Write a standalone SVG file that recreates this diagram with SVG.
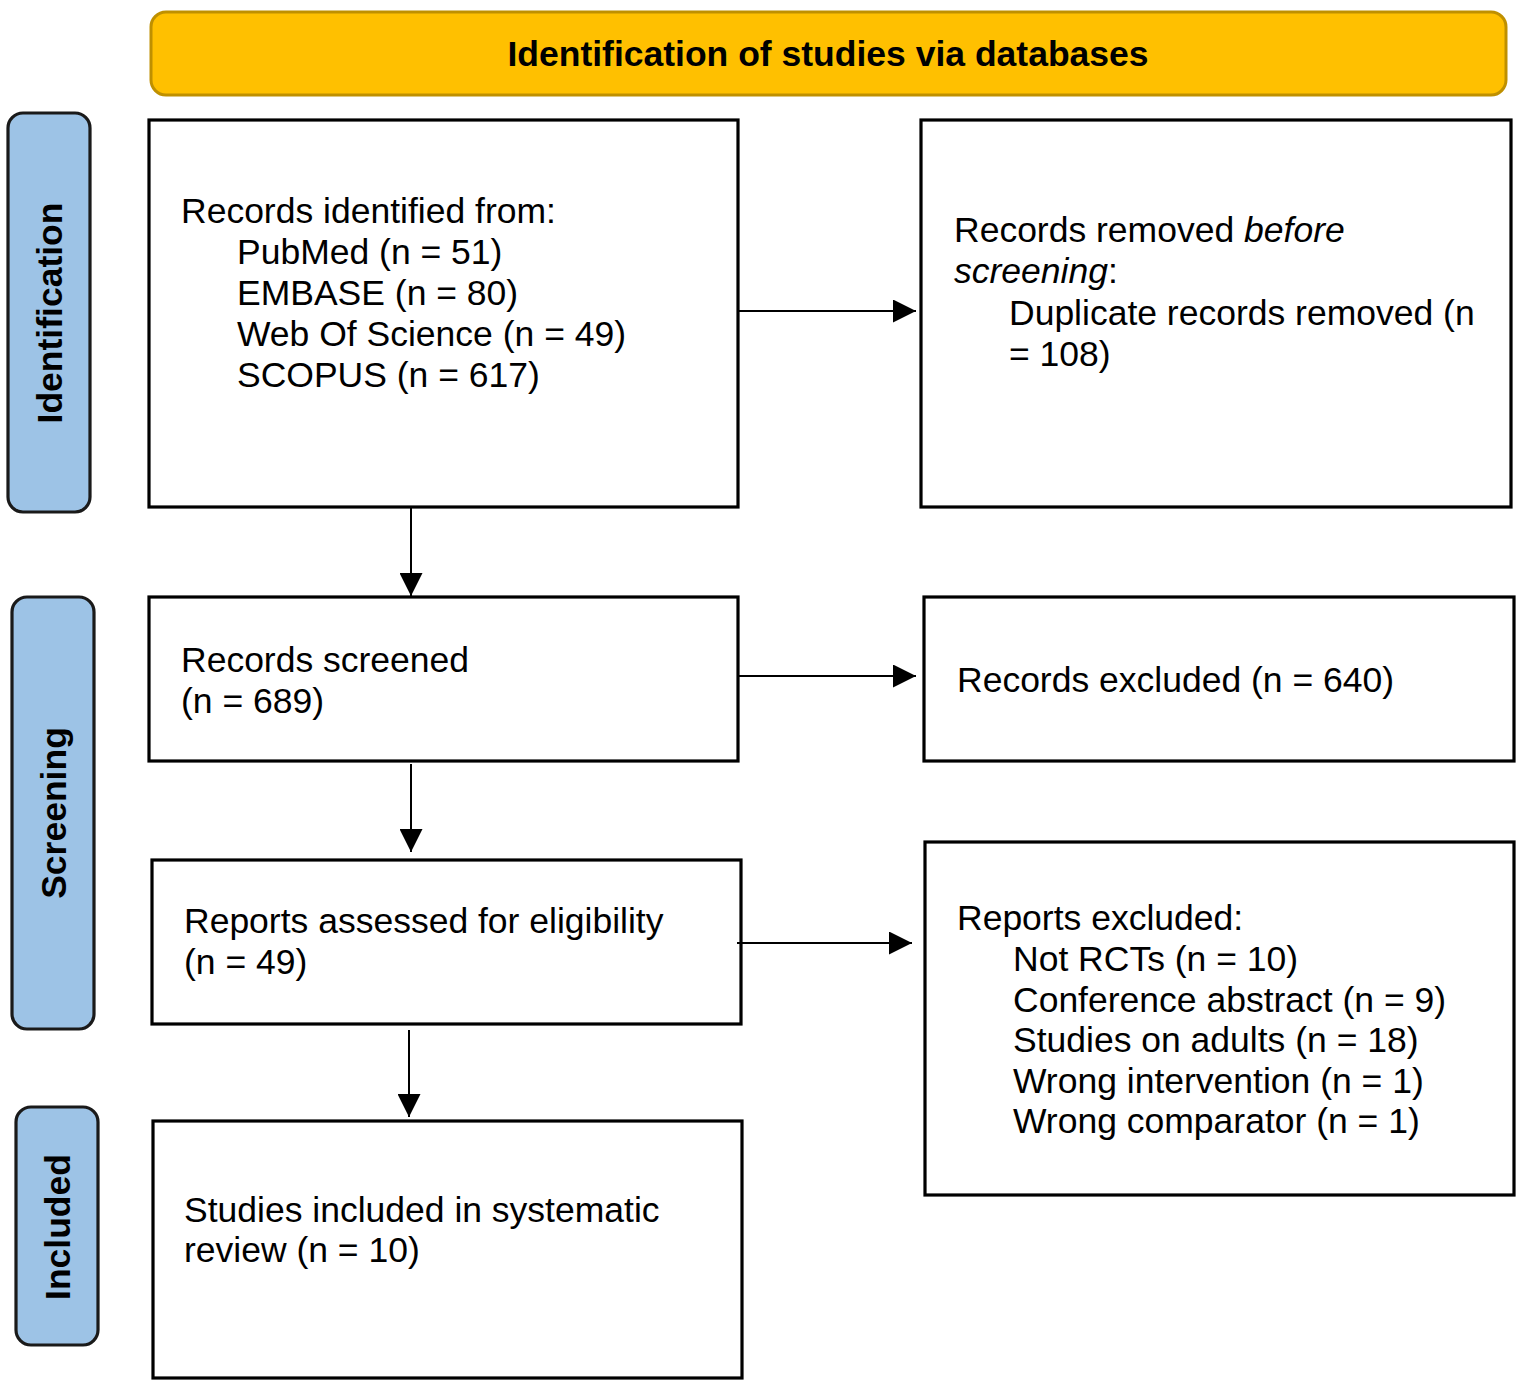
<svg xmlns="http://www.w3.org/2000/svg" width="1524" height="1387" viewBox="0 0 1524 1387">
<style>
.box{fill:#fff;stroke:#000;stroke-width:3.2}
.side{fill:#9DC3E6;stroke:#1a1a1a;stroke-width:3.2}
.hdr{fill:#FFC000;stroke:#BF9000;stroke-width:3}
.t{font-family:"Liberation Sans",Arial,sans-serif;font-size:35.5px;fill:#000}
.b{font-family:"Liberation Sans",Arial,sans-serif;font-size:35.5px;font-weight:bold;fill:#000}
.conn{stroke:#000;stroke-width:2;fill:none}
</style>
<defs>
<marker id="ah" markerWidth="23" markerHeight="23" refX="23" refY="11.5" orient="auto" markerUnits="userSpaceOnUse">
<path d="M0,0 L23,11.5 L0,23 Z" fill="#000"/>
</marker>
</defs>
<rect width="1524" height="1387" fill="#fff"/>
<g id="header">
<rect class="hdr" x="151" y="12" width="1355" height="83" rx="15"/>
<text class="b" x="828" y="66" text-anchor="middle">Identification of studies via databases</text>
</g>
<g id="side-identification">
<rect class="side" x="8" y="113" width="82" height="399" rx="15"/>
<text class="b" transform="translate(49,313) rotate(-90)" x="0" y="12.7" text-anchor="middle">Identification</text>
</g>
<g id="side-screening">
<rect class="side" x="12" y="597" width="82" height="432" rx="15"/>
<text class="b" transform="translate(53,813) rotate(-90)" x="0" y="12.7" text-anchor="middle">Screening</text>
</g>
<g id="side-included">
<rect class="side" x="16" y="1107" width="82" height="238" rx="15"/>
<text class="b" transform="translate(57,1227) rotate(-90)" x="0" y="12.7" text-anchor="middle">Included</text>
</g>
<g id="records-identified">
<rect class="box" x="149" y="120" width="589" height="387"/>
<text class="t" x="181" y="223">Records identified from:</text>
<text class="t" x="237" y="264">PubMed (n = 51)</text>
<text class="t" x="237" y="305">EMBASE (n = 80)</text>
<text class="t" x="237" y="346">Web Of Science (n = 49)</text>
<text class="t" x="237" y="387">SCOPUS (n = 617)</text>
</g>
<g id="records-removed">
<rect class="box" x="921" y="120" width="590" height="387"/>
<text class="t" x="954" y="242">Records removed <tspan font-style="italic">before</tspan></text>
<text class="t" x="954" y="283"><tspan font-style="italic">screening</tspan>:</text>
<text class="t" x="1009" y="325">Duplicate records removed (n</text>
<text class="t" x="1009" y="366">= 108)</text>
</g>
<g id="records-screened">
<rect class="box" x="149" y="597" width="589" height="164"/>
<text class="t" x="181" y="672">Records screened</text>
<text class="t" x="181" y="713">(n = 689)</text>
</g>
<g id="records-excluded">
<rect class="box" x="924" y="597" width="590" height="164"/>
<text class="t" x="957" y="692">Records excluded (n = 640)</text>
</g>
<g id="reports-assessed">
<rect class="box" x="152" y="860" width="589" height="164"/>
<text class="t" x="184" y="933">Reports assessed for eligibility</text>
<text class="t" x="184" y="974">(n = 49)</text>
</g>
<g id="reports-excluded">
<rect class="box" x="925" y="842" width="589" height="353"/>
<text class="t" x="957" y="930">Reports excluded:</text>
<text class="t" x="1013" y="971">Not RCTs (n = 10)</text>
<text class="t" x="1013" y="1012">Conference abstract (n = 9)</text>
<text class="t" x="1013" y="1052">Studies on adults (n = 18)</text>
<text class="t" x="1013" y="1093">Wrong intervention (n = 1)</text>
<text class="t" x="1013" y="1133">Wrong comparator (n = 1)</text>
</g>
<g id="studies-included">
<rect class="box" x="153" y="1121" width="589" height="257"/>
<text class="t" x="184" y="1222">Studies included in systematic</text>
<text class="t" x="184" y="1262">review (n = 10)</text>
</g>
<g id="connectors">
<line class="conn" x1="739" y1="311" x2="916" y2="311" marker-end="url(#ah)"/>
<line class="conn" x1="411" y1="508" x2="411" y2="596" marker-end="url(#ah)"/>
<line class="conn" x1="739" y1="676" x2="916" y2="676" marker-end="url(#ah)"/>
<line class="conn" x1="411" y1="764" x2="411" y2="852" marker-end="url(#ah)"/>
<line class="conn" x1="737" y1="943" x2="912" y2="943" marker-end="url(#ah)"/>
<line class="conn" x1="409" y1="1030" x2="409" y2="1117" marker-end="url(#ah)"/>
</g>
</svg>
